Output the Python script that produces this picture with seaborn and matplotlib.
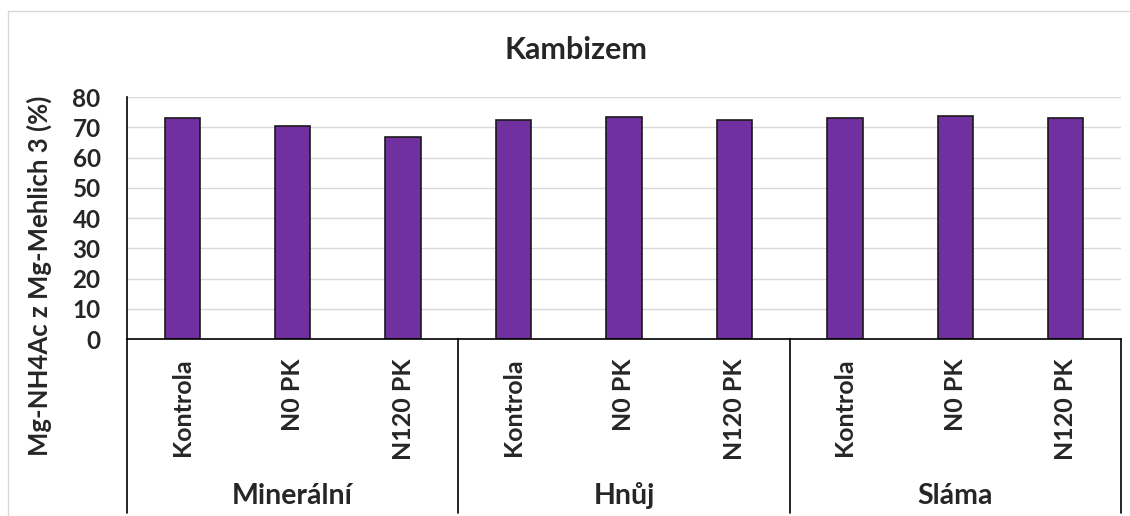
import pandas as pd
import seaborn as sns
import matplotlib.pyplot as plt
import matplotlib.transforms as mtransforms
from matplotlib.patches import Rectangle
from matplotlib.lines import Line2D

groups = ['Minerální', 'Hnůj', 'Sláma']
treatments = ['Kontrola', 'N0 PK', 'N120 PK']
values = [73.0, 70.3, 66.7,
          72.5, 73.4, 72.5,
          73.0, 73.8, 73.0]

rows = []
i = 0
for g in groups:
    for t in treatments:
        rows.append({'key': g + '|' + t, 'group': g, 'treatment': t, 'value': values[i]})
        i += 1
df = pd.DataFrame(rows)

sns.set_style('white')
plt.rcParams['font.family'] = ['Lato', 'DejaVu Sans']
plt.rcParams['font.weight'] = 'bold'

fig = plt.figure(figsize=(11.3, 5.16), dpi=100)
ax = fig.add_axes([0.1124, 0.343, 0.8796, 0.469])

sns.barplot(
    data=df,
    x='key',
    y='value',
    color='#7030A0',
    saturation=1,
    width=0.32,
    edgecolor='#1a1a1a',
    linewidth=1.2,
    ax=ax
)

ax.set_xlim(-0.5, len(values) - 0.5)
ax.set_ylim(0, 80)
ax.set_yticks(range(0, 81, 10))
ax.yaxis.grid(True, color='#d9d9d9', linewidth=1)
ax.set_axisbelow(True)
ax.tick_params(axis='y', labelsize=17.5, length=0, pad=19)
ax.tick_params(axis='x', labelsize=18, length=0, pad=14)
for lab in ax.get_yticklabels():
    lab.set_fontweight('bold')
ax.set_xticks(range(len(values)))
ax.set_xticklabels(df['treatment'], rotation=90, fontweight='bold')

ax.set_xlabel('')
ax.set_ylabel('Mg-NH4Ac z Mg-Mehlich 3 (%)', fontsize=18.5, fontweight='bold')
ax.yaxis.set_label_coords(-0.075, 0.26)

for s in ['top', 'right']:
    ax.spines[s].set_visible(False)
ax.spines['left'].set_color('black')
ax.spines['bottom'].set_color('black')
ax.spines['left'].set_linewidth(1.2)
ax.spines['bottom'].set_linewidth(1.2)

# group separators and labels under the axis
trans = mtransforms.blended_transform_factory(ax.transData, fig.transFigure)
n = len(treatments)
for k in range(len(groups) + 1):
    xpos = k * n - 0.5
    fig.add_artist(Line2D([xpos, xpos], [0.343, 0.005], transform=trans,
                          color='black', linewidth=1.2))
for k, g in enumerate(groups):
    fig.text(k * n + (n - 1) / 2, 0.039, g, transform=trans, ha='center',
             va='center', fontsize=20.5, fontweight='bold')

fig.text(0.51, 0.903, 'Kambizem', ha='center', va='center', fontsize=22, fontweight='bold')

fig.add_artist(Rectangle((0.007, -0.1), 1.1, 1.078, transform=fig.transFigure,
                         fill=False, edgecolor='#d9d9d9', linewidth=1))

fig.savefig('out.png', dpi=100)
